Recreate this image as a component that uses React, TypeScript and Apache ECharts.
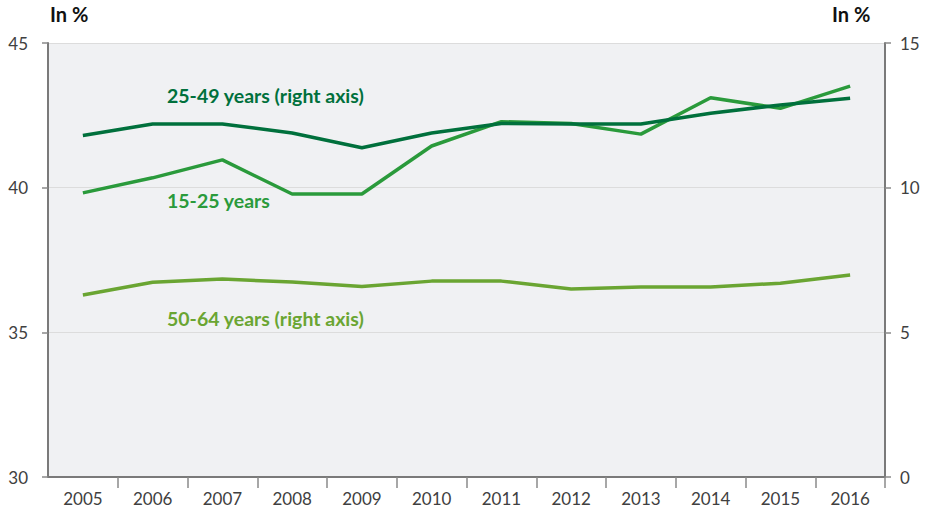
import React, { useEffect, useRef } from "react";
import * as echarts from "echarts";

const years = ["2005", "2006", "2007", "2008", "2009", "2010", "2011", "2012", "2013", "2014", "2015", "2016"];
const age15to25 = [39.82, 40.34, 40.96, 39.78, 39.78, 41.44, 42.28, 42.22, 41.85, 43.11, 42.74, 43.51];
const age25to49 = [11.8, 12.2, 12.2, 11.89, 11.38, 11.89, 12.22, 12.2, 12.2, 12.57, 12.86, 13.09];
const age50to64 = [6.29, 6.73, 6.84, 6.74, 6.58, 6.77, 6.77, 6.5, 6.57, 6.57, 6.7, 6.98];
const leftTicks = [30, 35, 40, 45];
const rightTicks = [0, 5, 10, 15];

const FONT = "Lato";
const C_DARK = "#00703c";
const C_MID = "#2a9a3b";
const C_OLIVE = "#6aa532";

export default function App() {
  const ref = useRef<HTMLDivElement>(null);
  useEffect(() => {
    if (!ref.current) return;
    const chart = echarts.init(ref.current, null, { renderer: "svg" });
    const axisLabelStyle = { color: "#404040", fontSize: 17, fontFamily: FONT };
    chart.setOption({
      animation: false,
      backgroundColor: "#ffffff",
      textStyle: { fontFamily: FONT },
      grid: { left: 48, right: 41, top: 43, bottom: 37, show: true, backgroundColor: "#f0f1f3", borderWidth: 0 },
      xAxis: {
        type: "category",
        data: years,
        boundaryGap: true,
        axisLine: { show: true, lineStyle: { color: "#7a7a7a", width: 2 } },
        axisTick: {
          show: true,
          length: 11,
          lineStyle: { color: "#8a8a8a", width: 1.5 },
          interval: (index: number) => index > 0 && index < years.length,
        },
        axisLabel: { ...axisLabelStyle, margin: 13 },
        splitLine: { show: false },
      },
      yAxis: [
        {
          type: "value",
          min: leftTicks[0],
          max: leftTicks[leftTicks.length - 1],
          interval: 5,
          position: "left",
          axisLine: { show: true, lineStyle: { color: "#7a7a7a", width: 2 } },
          axisTick: { show: true, length: 6, lineStyle: { color: "#8a8a8a", width: 1.5 } },
          axisLabel: { ...axisLabelStyle, margin: 20, verticalAlign: "middle", padding: [0, 0, 6, 0] },
          splitLine: { show: true, lineStyle: { color: "#dcdcdc", width: 1 } },
        },
        {
          type: "value",
          min: rightTicks[0],
          max: rightTicks[rightTicks.length - 1],
          interval: 5,
          position: "right",
          axisLine: { show: true, lineStyle: { color: "#7a7a7a", width: 2 } },
          axisTick: { show: true, length: 6, lineStyle: { color: "#8a8a8a", width: 1.5 } },
          axisLabel: { ...axisLabelStyle, margin: 15, verticalAlign: "middle", padding: [0, 0, 6, 0] },
          splitLine: { show: false },
        },
      ],
      series: [
        {
          name: "15-25 years",
          type: "line",
          yAxisIndex: 0,
          data: age15to25,
          symbol: "none",
          lineStyle: { color: C_MID, width: 3.5 },
        },
        {
          name: "25-49 years (right axis)",
          type: "line",
          yAxisIndex: 1,
          data: age25to49,
          symbol: "none",
          lineStyle: { color: C_DARK, width: 3.5 },
        },
        {
          name: "50-64 years (right axis)",
          type: "line",
          yAxisIndex: 1,
          data: age50to64,
          symbol: "none",
          lineStyle: { color: C_OLIVE, width: 3.5 },
        },
      ],
      graphic: [
        { type: "text", left: 50, top: 4, style: { text: "In %", fontSize: 20, fontWeight: "bold", fill: "#111", fontFamily: FONT } },
        { type: "text", left: 832, top: 4, style: { text: "In %", fontSize: 20, fontWeight: "bold", fill: "#111", fontFamily: FONT } },
        { type: "text", left: 167, top: 85, style: { text: "25-49 years (right axis)", fontSize: 19.5, fontWeight: "bold", fill: C_DARK, fontFamily: FONT } },
        { type: "text", left: 167, top: 190, style: { text: "15-25 years", fontSize: 19.5, fontWeight: "bold", fill: C_MID, fontFamily: FONT } },
        { type: "text", left: 167, top: 308, style: { text: "50-64 years (right axis)", fontSize: 19.5, fontWeight: "bold", fill: C_OLIVE, fontFamily: FONT } },
      ],
    });
    return () => chart.dispose();
  }, []);
  return <div ref={ref} style={{ position: "fixed", left: 0, top: 0, width: 926, height: 514 }} />;
}
